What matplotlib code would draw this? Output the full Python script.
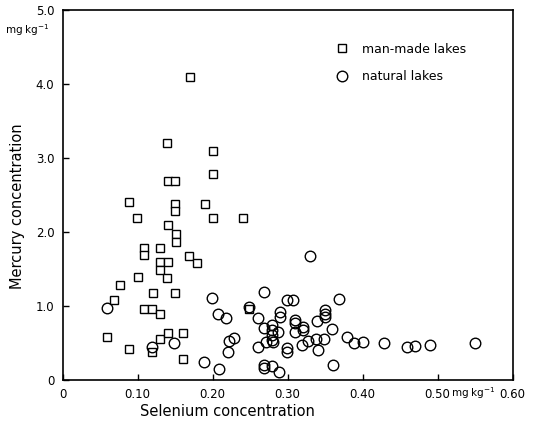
import numpy as np
import matplotlib.pyplot as plt

# man-made lakes (squares)
man_se = [0.170, 0.139, 0.200, 0.200, 0.141, 0.150, 0.088, 0.150, 0.150, 0.190,
          0.099, 0.200, 0.240, 0.140, 0.151, 0.151, 0.130, 0.109, 0.109, 0.169,
          0.179, 0.130, 0.140, 0.130, 0.139, 0.100, 0.077, 0.120, 0.150, 0.068,
          0.108, 0.119, 0.130, 0.059, 0.130, 0.140, 0.160, 0.088, 0.119, 0.160,
          0.249]
man_hg = [4.10, 3.20, 3.09, 2.79, 2.69, 2.69, 2.40, 2.38, 2.28, 2.38,
          2.19, 2.19, 2.19, 2.09, 1.97, 1.87, 1.78, 1.78, 1.69, 1.68,
          1.58, 1.59, 1.59, 1.49, 1.38, 1.39, 1.28, 1.18, 1.18, 1.08,
          0.955, 0.955, 0.89, 0.58, 0.56, 0.63, 0.63, 0.415, 0.38, 0.28,
          0.955]

# natural lakes (circles)
nat_se = [0.059, 0.119, 0.149, 0.199, 0.2075, 0.218, 0.229, 0.222, 0.220, 0.189,
          0.209, 0.249, 0.269, 0.261, 0.268, 0.2785, 0.2785, 0.2785, 0.279, 0.2875,
          0.290, 0.290, 0.2987, 0.3075, 0.310, 0.310, 0.320, 0.320, 0.310, 0.261,
          0.271, 0.281, 0.2995, 0.2995, 0.3187, 0.327, 0.268, 0.269, 0.279, 0.289,
          0.3293, 0.3688, 0.3387, 0.350, 0.350, 0.350, 0.3595, 0.348, 0.338, 0.340,
          0.379, 0.389, 0.400, 0.3604, 0.4288, 0.4587, 0.4697, 0.4897, 0.550]
nat_hg = [0.975, 0.45, 0.50, 1.105, 0.888, 0.842, 0.567, 0.527, 0.376, 0.239,
          0.144, 0.99, 1.19, 0.836, 0.698, 0.743, 0.676, 0.608, 0.54, 0.644,
          0.923, 0.856, 1.08, 1.08, 0.81, 0.766, 0.715, 0.68, 0.653, 0.44,
          0.509, 0.518, 0.428, 0.383, 0.47, 0.527, 0.203, 0.158, 0.193, 0.104,
          1.68, 1.09, 0.797, 0.946, 0.892, 0.847, 0.693, 0.558, 0.55, 0.41,
          0.58, 0.495, 0.516, 0.198, 0.504, 0.441, 0.464, 0.473, 0.496]

x_ticks = [0, 0.10, 0.20, 0.30, 0.40, 0.50, 0.60]
x_labels = ["0", "0.10", "0.20", "0.30", "0.40", "0.50", "0.60"]
y_ticks = [0, 1, 2, 3, 4, 5]
y_labels = ["0", "1.0", "2.0", "3.0", "4.0", "5.0"]

plt.rcParams['font.family'] = ['DejaVu Sans']
fig = plt.figure(figsize=(5.4, 4.23), dpi=100)
ax = fig.add_axes([0.1161, 0.1017, 0.8333, 0.8747])

ax.plot(man_se, man_hg, 's', ms=5.6, mfc='white', mec='black', mew=1.0,
        label="man-made lakes")
ax.plot(nat_se, nat_hg, 'o', ms=7.6, mfc='none', mec='black', mew=1.0,
        label="natural lakes")

ax.set_xlim(0, 0.60)
ax.set_ylim(0, 5.0)
ax.set_xticks(x_ticks)
ax.set_xticklabels(x_labels)
ax.set_yticks(y_ticks)
ax.set_yticklabels(y_labels)
ax.tick_params(direction='in', length=4, width=1, labelsize=8.5, pad=6)
ax.get_xticklabels()[-1].set_x(0.605)
for s in ax.spines.values():
    s.set_linewidth(1.2)

ax.set_xlabel("Selenium concentration", fontsize=10.5, x=0.367, labelpad=2)
ax.set_ylabel("Mercury concentration", fontsize=10.5, y=0.47, labelpad=8)

ax.text(0.548, -0.013, "mg kg$^{-1}$", transform=ax.get_xaxis_transform(),
        ha='center', va='top', fontsize=7.5)
ax.text(-0.028, 0.945, "mg kg$^{-1}$", transform=ax.transAxes,
        ha='right', va='center', fontsize=7.5)

ax.legend(loc='upper left', bbox_to_anchor=(0.565, 0.945), frameon=False,
          fontsize=9, handletextpad=0.6, labelspacing=1.15, borderpad=0.5)

fig.savefig("out.png", dpi=100)
